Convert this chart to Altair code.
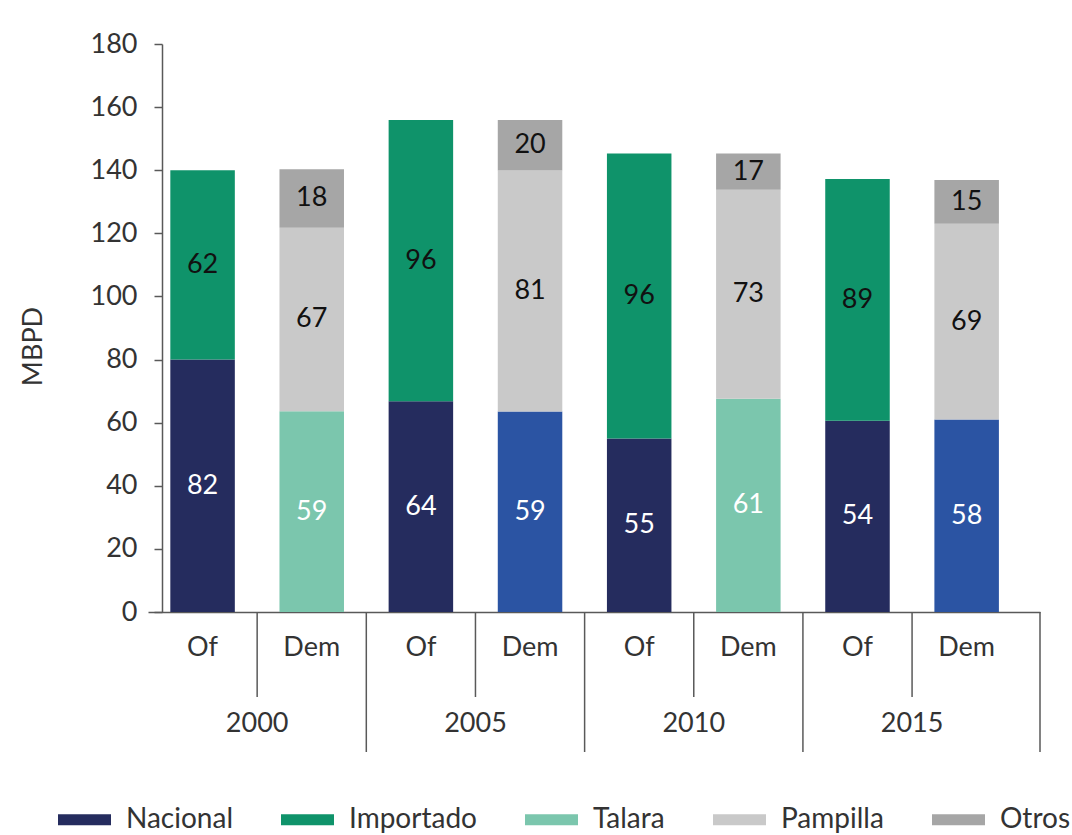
import altair as alt
import pandas as pd

# ---------------- data ----------------
years = ["2000", "2005", "2010", "2015"]
kinds = ["Of", "Dem"]
columns = [(y, k) for y in years for k in kinds]

legend_names = ["Nacional", "Importado", "Talara", "Pampilla", "Otros"]
series_names = ["Nacional", "Importado", "Talara", "Pampilla", "Otros", "Nacional (Dem)"]
series_colors = ["#252C5E", "#0F936A", "#7BC6AD", "#C9C9C9", "#A6A6A6", "#2B54A3"]
stack_order = {"Nacional": 0, "Nacional (Dem)": 0, "Talara": 0,
               "Importado": 1, "Pampilla": 1, "Otros": 2}

# bar heights as drawn (MBPD), one entry per column (Of/Dem per year)
nacional_v = [80.0, None, 66.8, None, 55.0, None, 60.6, None]
nacdem_v = [None, None, None, 63.5, None, None, None, 61.0]
talara_v = [None, 63.6, None, None, None, 67.6, None, None]
importado_v = [60.0, None, 89.1, None, 90.3, None, 76.6, None]
pampilla_v = [None, 58.2, None, 76.4, None, 66.2, None, 62.0]
otros_v = [None, 18.5, None, 16.0, None, 11.5, None, 13.9]

# printed data labels
nacional_l = [82, None, 64, None, 55, None, 54, None]
nacdem_l = [None, None, None, 59, None, None, None, 58]
talara_l = [None, 59, None, None, None, 61, None, None]
importado_l = [62, None, 96, None, 96, None, 89, None]
pampilla_l = [None, 67, None, 81, None, 73, None, 69]
otros_l = [None, 18, None, 20, None, 17, None, 15]

values = {"Nacional": (nacional_v, nacional_l),
          "Nacional (Dem)": (nacdem_v, nacdem_l),
          "Talara": (talara_v, talara_l),
          "Importado": (importado_v, importado_l),
          "Pampilla": (pampilla_v, pampilla_l),
          "Otros": (otros_v, otros_l)}

rows = []
for name, (vals, labs) in values.items():
    for (yr, kd), v, lab in zip(columns, vals, labs):
        if v is None:
            continue
        rows.append({"year": yr, "kind": kd, "series": name, "value": v,
                     "label": str(lab), "order": stack_order[name]})
df = pd.DataFrame(rows)
cols_df = pd.DataFrame({"year": [c[0] for c in columns], "kind": [c[1] for c in columns]})
years_df = pd.DataFrame({"year": years})
inner_df = pd.DataFrame({"year": years[1:]})

# ---------------- style ----------------
FONT = "Lato"
FS = 27
LINE = "#595959"
TEXT = "#333333"
W = 892
H = 568

x_scale = alt.Scale(domain=years, paddingInner=0, paddingOuter=0.043, align=0)
xo_scale = alt.Scale(domain=kinds, paddingInner=0.409, paddingOuter=0.2045)
y_scale = alt.Scale(domain=[0, 180], nice=False)
x_axis = alt.Axis(labels=False, ticks=False, title=None, grid=False,
                  domainColor=LINE, domainWidth=1.5)


def X(**kw):
    return alt.X("year:N", scale=x_scale, axis=x_axis, sort=years, **kw)


XO = alt.XOffset("kind:N", scale=xo_scale, sort=kinds)

base = alt.Chart(df).transform_stack(
    stack="value", groupby=["year", "kind"],
    sort=[alt.SortField("order", order="ascending")], as_=["v0", "v1"]
).transform_calculate(mid="(datum.v0 + datum.v1) / 2")

bars = base.mark_bar().encode(
    x=X(), xOffset=XO,
    y=alt.Y("v0:Q", scale=y_scale,
            axis=alt.Axis(values=list(range(0, 181, 20)), title="MBPD", grid=False,
                          tickSize=8, tickColor=LINE, tickWidth=1.5,
                          domainColor=LINE, domainWidth=1.5,
                          labelPadding=17, labelFont=FONT, labelFontSize=FS,
                          labelColor=TEXT, offset=-14,
                          titleFont=FONT, titleFontSize=FS, titleColor=TEXT,
                          titleFontWeight="normal", titleAngle=270,
                          titleX=-129, titleY=302, titleAlign="center",
                          titleBaseline="middle")),
    y2="v1:Q",
    color=alt.Color("series:N",
                    scale=alt.Scale(domain=series_names, range=series_colors),
                    legend=alt.Legend(values=legend_names, title=None, orient="none",
                                      legendX=-90, legendY=749, direction="horizontal",
                                      columns=5, columnPadding=48,
                                      symbolType="M-1,-0.21H1V0.21H-1Z", symbolSize=2809,
                                      symbolStrokeWidth=0, labelOffset=15,
                                      labelFont=FONT, labelFontSize=28,
                                      labelColor=TEXT)),
)

labels = base.mark_text(font=FONT, fontSize=FS, baseline="middle").encode(
    x=X(), xOffset=XO,
    y=alt.Y("mid:Q", scale=y_scale),
    text="label:N",
    color=alt.condition(
        alt.FieldOneOfPredicate(field="series", oneOf=["Nacional", "Nacional (Dem)", "Talara"]),
        alt.value("#FFFFFF"), alt.value("#111111")),
)

short_rules = alt.Chart(years_df).mark_rule(color=LINE, strokeWidth=1.5).encode(
    x=X(bandPosition=0.5), y=alt.value(H), y2=alt.value(H + 85))
long_rules = alt.Chart(inner_df).mark_rule(color=LINE, strokeWidth=1.5).encode(
    x=X(bandPosition=0), y=alt.value(H), y2=alt.value(H + 140))
end_rule = alt.Chart(years_df.head(1)).mark_rule(color=LINE, strokeWidth=1.5).encode(
    x=alt.value(W), y=alt.value(H), y2=alt.value(H + 140))

kind_text = alt.Chart(cols_df).mark_text(font=FONT, fontSize=FS, color=TEXT,
                                          baseline="middle").encode(
    x=X(), xOffset=XO, y=alt.value(604), text="kind:N")
year_text = alt.Chart(years_df).mark_text(font=FONT, fontSize=FS, color=TEXT,
                                           baseline="middle").encode(
    x=X(), y=alt.value(680), text="year:N")

chart = alt.layer(bars, labels, short_rules, long_rules, end_rule, kind_text, year_text).properties(
    width=W, height=H,
    background="white",
    autosize=alt.AutoSizeParams(type="none"),
    padding={"left": 148, "top": 44, "right": 32, "bottom": 223},
).configure_view(stroke="transparent", strokeWidth=0)

chart.save("out.html", embed_options={"renderer": "svg", "actions": False})
